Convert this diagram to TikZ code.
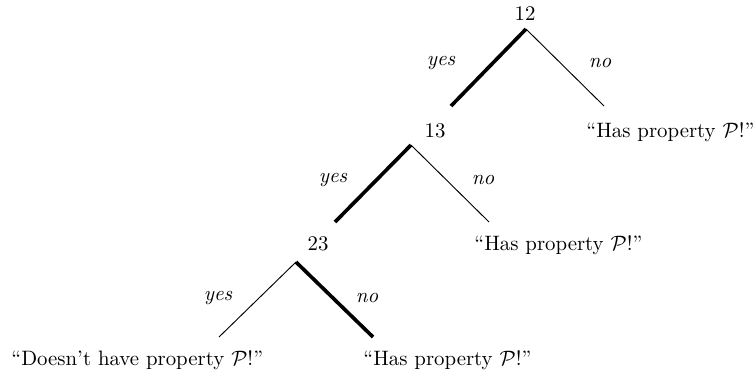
\documentclass[tikz,border=0pt]{standalone}
\begin{document}
\begin{tikzpicture}[x=0.48pt,y=-0.48pt,
  lbl/.style={inner sep=0pt,anchor=base},
  leaf/.style={inner sep=0pt,anchor=base west},
  ans/.style={inner sep=0pt,font=\itshape},
  thin/.style={line width=0.45pt},
  chosen/.style={line width=1.75pt}]
\useasboundingbox (0,0) rectangle (756,375);
% level 1
\node[lbl] (n12) at (525,20) {12};
\coordinate (a1) at (526,29);
\coordinate (b1l) at (451,106);
\coordinate (b1r) at (604,106);
\node[leaf] (h1) at (586,137) {``Has property $\mathcal{P}$!''};
\draw[chosen] (a1) -- (b1l);
\draw[thin] (a1) -- (b1r);
\node[ans] (y1) at (441,63) {yes};
\node[ans] (no1) at (600,63) {no};
% level 2
\node[lbl] (n13) at (435,137) {13};
\coordinate (a2) at (411,145);
\coordinate (b2l) at (335,222);
\coordinate (b2r) at (489,222);
\node[leaf] (h2) at (474,250) {``Has property $\mathcal{P}$!''};
\draw[chosen] (a2) -- (b2l);
\draw[thin] (a2) -- (b2r);
\node[ans] (y2) at (333,180) {yes};
\node[ans] (no2) at (483,180) {no};
% level 3
\node[lbl] (n23) at (318,250) {23};
\coordinate (a3) at (296,262);
\coordinate (b3l) at (219,337);
\coordinate (b3r) at (373,337);
\node[leaf] (d3) at (11,365) {``Doesn't have property $\mathcal{P}$!''};
\node[leaf] (h3) at (363,365) {``Has property $\mathcal{P}$!''};
\draw[thin] (a3) -- (b3l);
\draw[chosen] (a3) -- (b3r);
\node[ans] (y3) at (218,298) {yes};
\node[ans] (no3) at (367,298) {no};
\end{tikzpicture}
\end{document}
